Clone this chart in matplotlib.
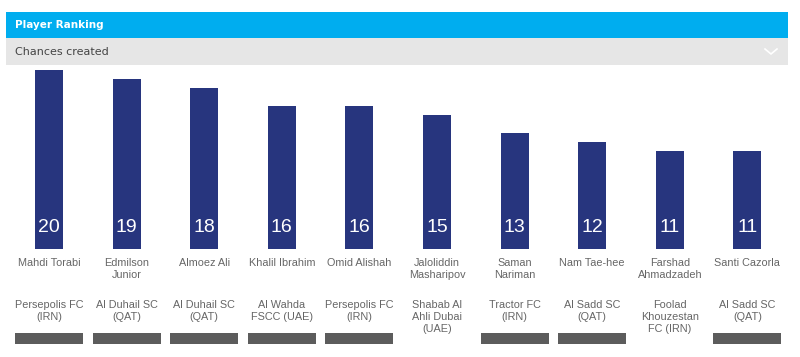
import matplotlib.pyplot as plt
import matplotlib.transforms as mtransforms
from matplotlib.patches import Rectangle

players = ['Mahdi Torabi', 'Edmilson\nJunior', 'Almoez Ali', 'Khalil Ibrahim', 'Omid Alishah',
           'Jaloliddin\nMasharipov', 'Saman\nNariman', 'Nam Tae-hee', 'Farshad\nAhmadzadeh', 'Santi Cazorla']
clubs = ['Persepolis FC\n(IRN)', 'Al Duhail SC\n(QAT)', 'Al Duhail SC\n(QAT)', 'Al Wahda\nFSCC (UAE)',
         'Persepolis FC\n(IRN)', 'Shabab Al\nAhli Dubai\n(UAE)', 'Tractor FC\n(IRN)', 'Al Sadd SC\n(QAT)',
         'Foolad\nKhouzestan\nFC (IRN)', 'Al Sadd SC\n(QAT)']
chances = [20, 19, 18, 16, 16, 15, 13, 12, 11, 11]

W, H = 800, 357
fig = plt.figure(figsize=(W / 100, H / 100), dpi=100)
fig.patch.set_facecolor('white')

def fy(px):
    return 1 - px / H

# header strips
fig.patches.append(Rectangle((6 / W, fy(38)), 782 / W, 26 / H, transform=fig.transFigure,
                             facecolor='#00adef', edgecolor='none', zorder=0))
fig.patches.append(Rectangle((6 / W, fy(65)), 782 / W, 27 / H, transform=fig.transFigure,
                             facecolor='#e6e6e6', edgecolor='none', zorder=0))
fig.text(15 / W, fy(25), 'Player Ranking', color='white', fontsize=7.5, fontweight='bold',
         va='center', ha='left', family='DejaVu Sans')
fig.text(15 / W, fy(52), 'Chances created', color='#444444', fontsize=8,
         va='center', ha='left', family='DejaVu Sans')
fig.lines.append(plt.Line2D([765 / W, 771 / W, 777 / W], [fy(49), fy(54), fy(49)],
                            transform=fig.transFigure, color='white', lw=1.2))

# bar axes: baseline at y=249px, 20 -> 70px
ax = fig.add_axes([10.2 / W, fy(249), 776 / W, 183 / H])
ax.set_xlim(-0.5, 9.5)
ax.set_ylim(0, 183 / 8.95)
ax.axis('off')
x = list(range(len(chances)))
ax.bar(x, chances, width=0.36, color='#27357e')

tr = mtransforms.blended_transform_factory(ax.transData, fig.transFigure)
for i, v in enumerate(chances):
    ax.text(i, fy(227), str(v), transform=tr, ha='center', va='center', color='white',
            fontsize=14, family='Liberation Sans')
    ax.text(i, fy(258), players[i], transform=tr, ha='center', va='top', color='#666666',
            fontsize=7.8, family='Liberation Sans', linespacing=1.25)
    ax.text(i, fy(300), clubs[i], transform=tr, ha='center', va='top', color='#666666',
            fontsize=7.8, family='Liberation Sans', linespacing=1.25)
    if clubs[i].count('\n') < 2:
        ax.add_patch(Rectangle((i - 0.438, fy(344)), 0.876, 11 / H, transform=tr,
                               facecolor='#5c5c5c', edgecolor='none', clip_on=False))

fig.savefig('out.png', dpi=100)
